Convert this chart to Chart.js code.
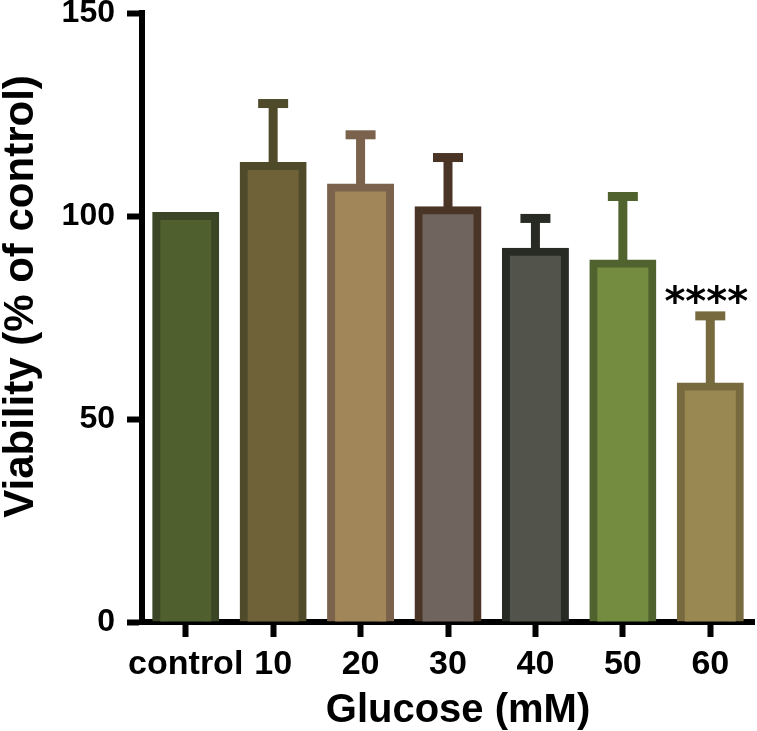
<!DOCTYPE html>
<html>
<head>
<meta charset="utf-8">
<script src="https://cdn.jsdelivr.net/npm/chart.js@4"></script>
<style>
  html, body { margin: 0; padding: 0; background: #fff; }
  #wrap { width: 757px; height: 731px; }
</style>
</head>
<body>
<div id="wrap"><canvas id="viabilityChart"></canvas></div>
<script>
// data
const categories = ['control', '10', '20', '30', '40', '50', '60'];
const viability = [100, 112.3, 107, 101.4, 91.2, 88.3, 58];
const viabilitySD = [0, 15.4, 13, 13, 8.2, 16.5, 17.4];
const yTicks = [0, 50, 100, 150];
const significance = ['', '', '', '', '', '', '****'];

const fillColors = ['#4f5f2e', '#706238', '#a08658', '#70645e', '#52544c', '#748c40', '#9a8852'];
const edgeColors = ['#3a4625', '#4e4a2a', '#7a624c', '#4a3426', '#282a24', '#50622e', '#766a3e'];

const FONT = "'Liberation Sans', Arial, sans-serif";

// upper error bars + significance stars
const errorBars = {
    id: 'errorBars',
    afterDatasetsDraw(chart) {
        const ctx = chart.ctx;
        const yScale = chart.scales.y;
        const meta = chart.getDatasetMeta(0);
        ctx.save();
        meta.data.forEach(function (bar, i) {
            const top = yScale.getPixelForValue(viability[i] + viabilitySD[i]);
            if (viabilitySD[i] > 0) {
                ctx.strokeStyle = edgeColors[i];
                ctx.lineWidth = 9;
                ctx.beginPath();
                ctx.moveTo(bar.x, bar.y);
                ctx.lineTo(bar.x, top);
                ctx.stroke();
                ctx.beginPath();
                ctx.moveTo(bar.x - 15, top);
                ctx.lineTo(bar.x + 15, top);
                ctx.stroke();
            }
            if (significance[i]) {
                ctx.fillStyle = '#000';
                ctx.font = "bold 40px 'DejaVu Sans', sans-serif";
                ctx.textAlign = 'center';
                ctx.textBaseline = 'alphabetic';
                ctx.fillText(significance[i], bar.x - 4, top - 1);
            }
        });
        ctx.restore();
    }
};

const ctx = document.getElementById('viabilityChart').getContext('2d');
const viabilityChart = new Chart(ctx, {
    type: 'bar',
    data: {
        labels: categories,
        datasets: [{
            data: viability,
            backgroundColor: fillColors,
            borderColor: edgeColors,
            borderWidth: 8,
            borderSkipped: 'start',
            inflateAmount: 4,
            barPercentage: 0.675,
            categoryPercentage: 1,
            clip: false
        }]
    },
    options: {
        responsive: true,
        maintainAspectRatio: false,
        animation: false,
        layout: { padding: { top: 13, right: 3, left: 0, bottom: 0 } },
        plugins: {
            legend: { display: false },
            tooltip: { enabled: false }
        },
        scales: {
            x: {
                z: 1,
                offset: true,
                grid: {
                    offset: false,
                    drawOnChartArea: false,
                    drawTicks: true,
                    tickLength: 15,
                    tickWidth: 6,
                    tickColor: '#000'
                },
                border: { display: true, width: 6, color: '#000' },
                ticks: {
                    color: '#000',
                    padding: 7,
                    maxRotation: 0,
                    autoSkip: false,
                    font: { family: FONT, size: 34, weight: 'bold' }
                },
                title: {
                    display: true,
                    text: '\u2002Glucose (mM)',
                    color: '#000',
                    padding: 0,
                    font: { family: FONT, size: 40, weight: 'bold', lineHeight: 1 }
                },
                afterFit: function (scale) { scale.height = 109; }
            },
            y: {
                min: 0,
                max: 150,
                afterBuildTicks: function (scale) {
                    scale.ticks = yTicks.map(function (v) { return { value: v }; });
                },
                grid: {
                    drawOnChartArea: false,
                    drawTicks: true,
                    tickLength: 15,
                    tickWidth: 6,
                    tickColor: '#000'
                },
                border: { display: true, width: 6, color: '#000' },
                ticks: {
                    color: '#000',
                    padding: 12,
                    font: { family: FONT, size: 32, weight: 'bold' }
                },
                title: {
                    display: true,
                    text: '\u2003Viability (% of control)',
                    color: '#000',
                    padding: 0,
                    font: { family: FONT, size: 42, weight: 'bold', lineHeight: 1 }
                },
                afterFit: function (scale) {
                    scale.width = 142;
                    scale.paddingTop = 0;
                    scale.paddingBottom = 0;
                }
            }
        }
    },
    plugins: [errorBars]
});
</script>
</body>
</html>
